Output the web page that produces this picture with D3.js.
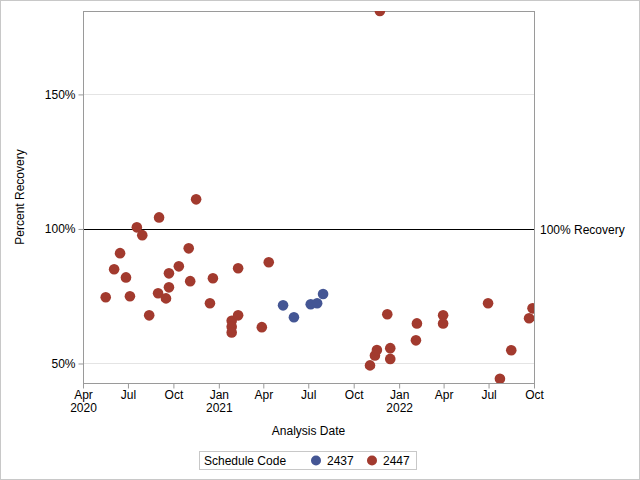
<!DOCTYPE html>
<html>
<head>
<meta charset="utf-8">
<script src="https://cdn.jsdelivr.net/npm/d3@7"></script>
<style>
    body { margin: 0; background: #fff; }
    text { font-family: "Liberation Sans", Arial, sans-serif; }
</style>
</head>
<body>
<svg id="chart" width="640" height="480"></svg>
<script>

    // schedule 2437
    var datesBlue = ['2021-05-11', '2021-06-02', '2021-07-06', '2021-07-19', '2021-07-31'];
    var valuesBlue = [71.6, 67.2, 72.0, 72.4, 75.8];

    // schedule 2447
    var datesRed = [
        '2020-05-17', '2020-06-03', '2020-06-15', '2020-06-27', '2020-07-05', '2020-07-19',
        '2020-07-30', '2020-08-13', '2020-08-31', '2020-09-02', '2020-09-16', '2020-09-22',
        '2020-09-22', '2020-10-12', '2020-11-01', '2020-11-04', '2020-11-16', '2020-12-14',
        '2020-12-20', '2021-01-27', '2021-01-27', '2021-01-27', '2021-02-09', '2021-02-09',
        '2021-03-29', '2021-04-12', '2021-11-03', '2021-11-13', '2021-11-17', '2021-11-23',
        '2021-12-08', '2021-12-14', '2021-12-14', '2022-02-04', '2022-02-06', '2022-03-31',
        '2022-03-31', '2022-06-30', '2022-07-24', '2022-08-16', '2022-09-21', '2022-09-28'
    ];
    var valuesRed = [
        74.6, 85.0, 91.0, 82.0, 75.0, 100.6,
        97.7, 67.9, 76.1, 104.3, 74.2, 78.3,
        83.5, 86.1, 92.8, 80.6, 111.0, 72.4,
        81.7, 65.9, 63.7, 61.5, 67.9, 85.4,
        63.5, 87.6, 49.3, 53.0, 55.0, 181.0,
        68.3, 55.7, 51.7, 58.6, 64.9, 67.9,
        64.9, 72.4, 44.3, 54.9, 66.8, 70.5
    ];

    var yTicks = [50, 100, 150];
    var tickMonths = ['Apr', 'Jul', 'Oct', 'Jan', 'Apr', 'Jul', 'Oct', 'Jan', 'Apr', 'Jul', 'Oct'];
    var tickYears = ['2020', '', '', '2021', '', '', '', '2022', '', '', ''];
    var codes = ['2437', '2447'];
    var colors = ['#445694', '#A23A2E'];

    (function () {

        var parse = d3.timeParse('%Y-%m-%d');

        var svg = d3.select('#chart'),
            pLeft = 83, pRight = 534, pTop = 11, pBottom = 383;

        svg.append('rect')
            .attr('x', 0.5).attr('y', 0.5)
            .attr('width', 639).attr('height', 479)
            .attr('fill', '#fff')
            .attr('stroke', '#c8c8c8');

        var x = d3.scaleTime()
            .domain([new Date(2020, 3, 1), new Date(2022, 9, 1)])
            .range([pLeft, pRight]);

        var y = d3.scaleLinear()
            .domain([42.75, 181])
            .range([pBottom, pTop]);

        svg.append('clipPath').attr('id', 'clip')
            .append('rect')
            .attr('x', pLeft).attr('y', pTop)
            .attr('width', pRight - pLeft).attr('height', pBottom - pTop);

        // grid
        svg.append('g').selectAll('line')
            .data(yTicks.filter(function (d) { return d !== 100; }))
            .enter().append('line')
            .attr('x1', pLeft).attr('x2', pRight)
            .attr('y1', function (d) { return Math.round(y(d)) + 0.5; })
            .attr('y2', function (d) { return Math.round(y(d)) + 0.5; })
            .attr('stroke', '#e4e4e4');

        // reference line
        svg.append('line')
            .attr('x1', pLeft).attr('x2', pRight)
            .attr('y1', Math.round(y(100)) + 0.5).attr('y2', Math.round(y(100)) + 0.5)
            .attr('stroke', '#000');

        svg.append('text')
            .attr('x', 540).attr('y', Math.round(y(100)) + 5)
            .attr('font-size', 12)
            .text('100% Recovery');

        // axes
        var yAxis = svg.append('g')
            .attr('transform', 'translate(' + (pLeft + 0.5) + ',0)')
            .call(d3.axisLeft(y).tickValues(yTicks).tickSize(5).tickPadding(3)
                .tickFormat(function (d) { return d + '%'; }));

        var xTickDates = d3.timeMonth.every(3).range(new Date(2020, 3, 1), new Date(2022, 9, 2));

        var xAxis = svg.append('g')
            .attr('transform', 'translate(0,' + (pBottom + 0.5) + ')')
            .call(d3.axisBottom(x).tickValues(xTickDates).tickSize(5).tickPadding(2)
                .tickFormat(function (d, i) { return tickMonths[i]; }));

        [yAxis, xAxis].forEach(function (a) {
            a.select('.domain').remove();
            a.selectAll('line').attr('stroke', '#9a9a9a');
            a.selectAll('text').attr('font-size', 12).attr('fill', '#000')
                .style('font-family', '"Liberation Sans", Arial, sans-serif');
        });

        xAxis.selectAll('.tick').append('text')
            .attr('y', 20).attr('dy', '0.71em')
            .attr('text-anchor', 'middle')
            .attr('font-size', 12)
            .attr('fill', '#000')
            .style('font-family', '"Liberation Sans", Arial, sans-serif')
            .text(function (d, i) { return tickYears[i]; });

        // frame
        svg.append('rect')
            .attr('x', pLeft + 0.5).attr('y', pTop + 0.5)
            .attr('width', pRight - pLeft).attr('height', pBottom - pTop)
            .attr('fill', 'none')
            .attr('stroke', '#9a9a9a');

        // points
        var series = [
            { dates: datesBlue, values: valuesBlue },
            { dates: datesRed, values: valuesRed }
        ];

        var pts = svg.append('g').attr('clip-path', 'url(#clip)');

        series.forEach(function (s, k) {
            pts.selectAll('.p' + k)
                .data(s.values)
                .enter().append('circle')
                .attr('class', 'p' + k)
                .attr('cx', function (d, i) { return x(parse(s.dates[i])); })
                .attr('cy', function (d) { return y(d); })
                .attr('r', 5.3)
                .attr('fill', colors[k]);
        });

        // titles
        svg.append('text')
            .attr('x', (pLeft + pRight) / 2).attr('y', 435)
            .attr('text-anchor', 'middle')
            .attr('font-size', 12)
            .text('Analysis Date');

        svg.append('text')
            .attr('transform', 'translate(24,' + ((pTop + pBottom) / 2) + ') rotate(-90)')
            .attr('text-anchor', 'middle')
            .attr('font-size', 12)
            .text('Percent Recovery');

        // legend
        var legend = svg.append('g');

        legend.append('rect')
            .attr('x', 199.5).attr('y', 451.5)
            .attr('width', 217).attr('height', 18)
            .attr('fill', 'none')
            .attr('stroke', '#c8c8c8');

        legend.append('text')
            .attr('x', 204).attr('y', 465)
            .attr('font-size', 12)
            .text('Schedule Code');

        var legendX = [316, 372];

        codes.forEach(function (c, i) {
            legend.append('circle')
                .attr('cx', legendX[i]).attr('cy', 460.5)
                .attr('r', 5)
                .attr('fill', colors[i]);
            legend.append('text')
                .attr('x', legendX[i] + 11).attr('y', 465)
                .attr('font-size', 12)
                .text(c);
        });

    })();

</script>
</body>
</html>
